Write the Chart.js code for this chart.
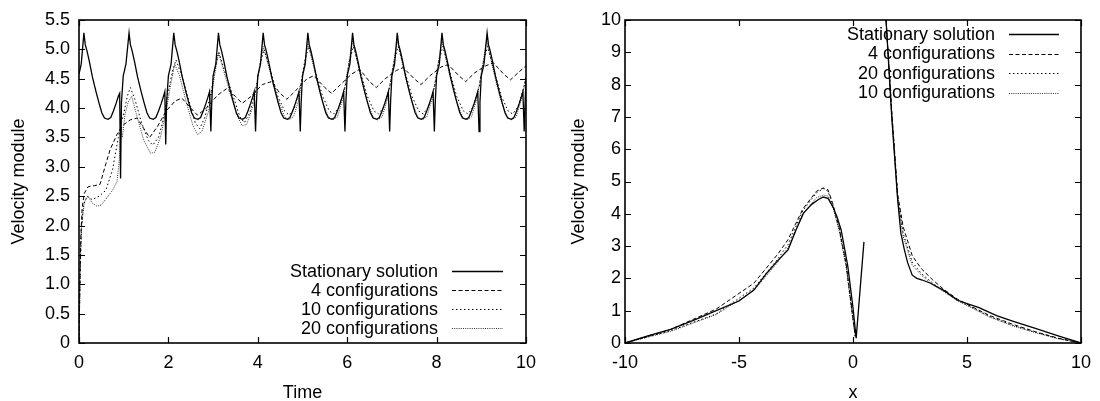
<!DOCTYPE html>
<html>
<head>
<meta charset="utf-8">
<script src="https://cdn.jsdelivr.net/npm/chart.js@4/dist/chart.umd.min.js"></script>
<style>
  html, body { margin: 0; padding: 0; background: #fff; }
  #wrap { position: relative; width: 1100px; height: 401px; overflow: hidden; }
  .pane { position: absolute; top: 0; width: 550px; height: 401px; }
  #p1 { left: 0; }
  #p2 { left: 550px; }
</style>
</head>
<body>
<div id="wrap">
  <div class="pane" id="p1"><canvas id="c1" width="550" height="401"></canvas></div>
  <div class="pane" id="p2"><canvas id="c2" width="550" height="401"></canvas></div>
</div>
<script>
// ---------------- Left panel: Velocity module vs Time ----------------
const leftLabels = ["Stationary solution", "4 configurations", "10 configurations", "20 configurations"];
const leftXTicks = [0, 2, 4, 6, 8, 10];
const leftYTicks = [0, 0.5, 1, 1.5, 2, 2.5, 3, 3.5, 4, 4.5, 5, 5.5];

const statTime = [0, 0.05,
  0.11, 0.14, 0.18, 0.23, 0.30, 0.38, 0.45, 0.51, 0.57, 0.65, 0.71, 0.77, 0.83, 0.88, 0.91, 0.93, 0.95, 0.99, 1.05,
  1.12, 1.15, 1.19, 1.24, 1.31, 1.39, 1.46, 1.52, 1.58, 1.66, 1.72, 1.78, 1.84, 1.89, 1.92, 1.94, 1.96, 2.00, 2.06,
  2.12, 2.15, 2.19, 2.24, 2.31, 2.39, 2.46, 2.52, 2.58, 2.66, 2.72, 2.78, 2.84, 2.89, 2.92, 2.95, 2.97, 3.00, 3.06,
  3.12, 3.15, 3.19, 3.24, 3.31, 3.39, 3.46, 3.52, 3.58, 3.66, 3.72, 3.78, 3.84, 3.89, 3.92, 3.95, 3.97, 4.00, 4.06,
  4.12, 4.15, 4.19, 4.24, 4.31, 4.39, 4.46, 4.52, 4.58, 4.66, 4.72, 4.78, 4.84, 4.89, 4.92, 4.95, 4.97, 5.00, 5.06,
  5.12, 5.15, 5.19, 5.24, 5.31, 5.39, 5.46, 5.52, 5.58, 5.66, 5.72, 5.78, 5.84, 5.89, 5.92, 5.95, 5.97, 6.00, 6.06,
  6.12, 6.15, 6.19, 6.24, 6.31, 6.39, 6.46, 6.52, 6.58, 6.66, 6.72, 6.78, 6.84, 6.89, 6.92, 6.95, 6.97, 7.00, 7.06,
  7.12, 7.15, 7.19, 7.24, 7.31, 7.39, 7.46, 7.52, 7.58, 7.66, 7.72, 7.78, 7.84, 7.89, 7.92, 7.95, 7.97, 8.00, 8.06,
  8.12, 8.15, 8.19, 8.24, 8.31, 8.39, 8.46, 8.52, 8.58, 8.66, 8.72, 8.78, 8.84, 8.89, 8.92, 8.95, 8.97, 9.00, 9.06,
  9.13, 9.16, 9.20, 9.25, 9.32, 9.40, 9.47, 9.53, 9.59, 9.67, 9.73, 9.79, 9.85, 9.90, 9.93, 9.96, 9.98, 10.0];
const statVel = [4.58, 4.75,
  5.28, 5.08, 4.97, 4.80, 4.53, 4.28, 4.08, 3.92, 3.83, 3.81, 3.84, 3.95, 4.08, 4.20, 4.25, 2.80, 4.10, 4.55, 4.75,
  5.28, 5.08, 4.97, 4.80, 4.53, 4.28, 4.08, 3.92, 3.83, 3.81, 3.84, 3.95, 4.08, 4.20, 4.28, 3.38, 4.10, 4.55, 4.75,
  5.28, 5.08, 4.97, 4.80, 4.53, 4.28, 4.08, 3.92, 3.83, 3.81, 3.84, 3.95, 4.08, 4.20, 4.28, 3.60, 4.10, 4.55, 4.75,
  5.28, 5.08, 4.97, 4.80, 4.53, 4.28, 4.08, 3.92, 3.83, 3.81, 3.84, 3.95, 4.08, 4.20, 4.28, 3.60, 4.10, 4.55, 4.75,
  5.28, 5.08, 4.97, 4.80, 4.53, 4.28, 4.08, 3.92, 3.83, 3.81, 3.84, 3.95, 4.08, 4.20, 4.28, 3.60, 4.10, 4.55, 4.75,
  5.28, 5.08, 4.97, 4.80, 4.53, 4.28, 4.08, 3.92, 3.83, 3.81, 3.84, 3.95, 4.08, 4.20, 4.28, 3.60, 4.10, 4.55, 4.75,
  5.28, 5.08, 4.97, 4.80, 4.53, 4.28, 4.08, 3.92, 3.83, 3.81, 3.84, 3.95, 4.08, 4.20, 4.28, 3.60, 4.10, 4.55, 4.75,
  5.28, 5.08, 4.97, 4.80, 4.53, 4.28, 4.08, 3.92, 3.83, 3.81, 3.84, 3.95, 4.08, 4.20, 4.28, 3.60, 4.10, 4.55, 4.75,
  5.28, 5.08, 4.97, 4.80, 4.53, 4.28, 4.08, 3.92, 3.83, 3.81, 3.84, 3.95, 4.08, 4.20, 4.28, 3.60, 4.10, 4.55, 4.75,
  5.28, 5.08, 4.97, 4.80, 4.53, 4.28, 4.08, 3.92, 3.83, 3.81, 3.84, 3.95, 4.08, 4.20, 4.28, 3.60, 4.10, 4.50];

const conf4Time = [0, 0.02, 0.04, 0.07, 0.12, 0.2, 0.35, 0.47, 0.6, 0.7, 0.85, 1.0, 1.15, 1.3, 1.45, 1.58, 1.75, 1.95,
  2.15, 2.3, 2.5, 2.65, 2.85, 3.1, 3.3, 3.5, 3.65, 3.85, 4.1, 4.3, 4.5, 4.65, 4.85, 5.1, 5.25, 5.5, 5.65, 5.85,
  6.1, 6.28, 6.5, 6.65, 6.85, 7.1, 7.25, 7.5, 7.65, 7.85, 8.1, 8.26, 8.5, 8.65, 8.85, 9.1, 9.27, 9.5, 9.65, 9.85, 10];
const conf4Vel = [0, 1.0, 1.8, 2.3, 2.55, 2.66, 2.68, 2.70, 3.05, 3.30, 3.55, 3.72, 3.80, 3.83, 3.65, 3.50, 3.68, 3.95,
  4.12, 4.17, 4.00, 3.88, 4.00, 4.22, 4.33, 4.20, 4.08, 4.20, 4.40, 4.45, 4.25, 4.15, 4.30, 4.50, 4.55, 4.35, 4.25, 4.40,
  4.58, 4.66, 4.45, 4.35, 4.50, 4.64, 4.69, 4.50, 4.40, 4.55, 4.70, 4.74, 4.55, 4.45, 4.60, 4.72, 4.77, 4.58, 4.48, 4.62, 4.72];

const conf10Time = [0, 0.02, 0.05, 0.1, 0.18, 0.3, 0.45, 0.6, 0.75, 0.88, 0.93, 1.0, 1.08, 1.15, 1.25, 1.4, 1.55, 1.65, 1.78, 1.9,
  2.0, 2.1, 2.17, 2.3, 2.45, 2.6, 2.7, 2.82, 2.95, 3.05, 3.13, 3.25, 3.45, 3.6, 3.7, 3.82, 3.95, 4.05,
  4.14, 4.3, 4.45, 4.6, 4.7, 4.82, 4.95, 5.05,
  5.14, 5.3, 5.45, 5.6, 5.7, 5.82, 5.95, 6.05,
  6.14, 6.3, 6.45, 6.6, 6.7, 6.82, 6.95, 7.05,
  7.14, 7.3, 7.45, 7.6, 7.7, 7.82, 7.95, 8.05,
  8.14, 8.3, 8.45, 8.6, 8.7, 8.82, 8.95, 9.05,
  9.14, 9.3, 9.45, 9.6, 9.7, 9.82, 9.95, 10];
const conf10Vel = [0, 1.0, 1.9, 2.35, 2.5, 2.44, 2.5, 2.6, 2.95, 3.5, 3.7, 3.9, 4.2, 4.35, 4.15, 3.75, 3.45, 3.37, 3.5, 3.85,
  4.3, 4.65, 4.82, 4.55, 4.15, 3.75, 3.65, 3.85, 4.25, 4.7, 4.95, 4.65, 4.2, 3.85, 3.75, 3.92, 4.3, 4.75,
  5.0, 4.6, 4.2, 3.95, 3.88, 4.0, 4.35, 4.8,
  5.05, 4.6, 4.2, 3.95, 3.9, 4.02, 4.35, 4.8,
  5.05, 4.6, 4.2, 3.95, 3.9, 4.02, 4.35, 4.8,
  5.05, 4.6, 4.2, 3.95, 3.9, 4.02, 4.35, 4.8,
  5.05, 4.6, 4.2, 3.95, 3.9, 4.02, 4.35, 4.8,
  5.05, 4.6, 4.2, 3.95, 3.9, 4.02, 4.35, 4.55];

const conf20Time = [0, 0.03, 0.06, 0.12, 0.2, 0.3, 0.4, 0.5, 0.6, 0.75, 0.85, 0.9, 0.94, 0.97, 1.03, 1.1, 1.18, 1.3, 1.45, 1.6, 1.7, 1.82, 1.95,
  2.05, 2.14, 2.25, 2.4, 2.55, 2.65, 2.75, 2.9, 3.0, 3.12, 3.25, 3.4, 3.55, 3.65, 3.75, 3.9, 4.0,
  4.12, 4.3, 4.45, 4.6, 4.7, 4.8, 4.92, 5.02,
  5.12, 5.28, 5.43, 5.58, 5.68, 5.78, 5.9, 6.0,
  6.12, 6.28, 6.43, 6.58, 6.68, 6.78, 6.9, 7.0,
  7.12, 7.28, 7.43, 7.58, 7.68, 7.78, 7.9, 8.0,
  8.12, 8.28, 8.43, 8.58, 8.68, 8.78, 8.9, 9.0,
  9.12, 9.28, 9.43, 9.58, 9.68, 9.78, 9.9, 10];
const conf20Vel = [0, 1.4, 2.0, 2.4, 2.5, 2.38, 2.33, 2.35, 2.45, 2.6, 2.75, 3.1, 3.65, 3.5, 3.9, 4.1, 4.2, 3.85, 3.45, 3.23, 3.25, 3.5, 3.95,
  4.4, 4.75, 4.55, 4.1, 3.7, 3.55, 3.6, 3.95, 4.4, 4.95, 4.6, 4.2, 3.85, 3.7, 3.72, 4.05, 4.5,
  5.05, 4.55, 4.15, 3.85, 3.8, 3.85, 4.15, 4.6,
  5.12, 4.6, 4.15, 3.85, 3.8, 3.85, 4.15, 4.6,
  5.15, 4.6, 4.15, 3.85, 3.8, 3.85, 4.15, 4.6,
  5.15, 4.6, 4.15, 3.85, 3.8, 3.85, 4.15, 4.6,
  5.15, 4.6, 4.15, 3.85, 3.8, 3.85, 4.15, 4.6,
  5.15, 4.6, 4.15, 3.85, 3.8, 3.85, 4.15, 4.5];

// ---------------- Right panel: Velocity module vs x ----------------
const rightLabels = ["Stationary solution", "4 configurations", "20 configurations", "10 configurations"];
const rightXTicks = [-10, -5, 0, 5, 10];
const rightYTicks = [0, 1, 2, 3, 4, 5, 6, 7, 8, 9, 10];

const rStatX = [-10, -9, -8, -7, -6, -5, -4.35, -3.8, -3.3, -2.85, -2.5, -2.17, -1.8, -1.5, -1.3, -1.1, -0.87, -0.7, -0.52, -0.23, -0.01, 0.14, 0.48,
  0.9, 1.45, 1.7, 1.96, 2.1, 2.25, 2.4, 2.6, 2.8, 3.04, 3.4, 4.0, 4.57, 5.0, 5.5, 6.3, 7.0, 8.0, 9.0, 10];
const rStatV = [0, 0.22, 0.42, 0.7, 1.0, 1.3, 1.64, 2.15, 2.55, 2.88, 3.5, 4.02, 4.3, 4.45, 4.52, 4.48, 4.2, 3.9, 3.5, 2.39, 1.15, 0.15, 3.13,
  null, 10, 7.0, 4.43, 3.4, 2.9, 2.48, 2.1, 2.0, 1.95, 1.85, 1.62, 1.33, 1.22, 1.1, 0.85, 0.68, 0.45, 0.22, 0];

const r4X = [-10, -8, -6, -4.35, -3.3, -2.85, -2.2, -1.6, -1.3, -1.1, -0.9, -0.6, -0.3, -0.05, 0.1,
  0.8, 1.45, 1.7, 1.96, 2.2, 2.6, 3.0, 3.5, 4.0, 4.6, 5.0, 6.0, 7.0, 8.0, 9.0, 10];
const r4V = [0, 0.42, 1.05, 1.85, 2.75, 3.2, 4.15, 4.7, 4.8, 4.75, 4.35, 3.55, 2.45, 1.05, 0.2,
  null, 10, 7.2, 4.6, 3.6, 2.7, 2.3, 1.95, 1.65, 1.35, 1.2, 0.85, 0.58, 0.35, 0.15, 0];

const r20X = [-10, -8, -6, -4.35, -3.3, -2.85, -2.2, -1.6, -1.3, -1.1, -0.9, -0.6, -0.3, -0.05, 0.1,
  0.8, 1.45, 1.7, 1.96, 2.2, 2.6, 3.0, 3.5, 4.0, 4.6, 5.0, 6.0, 7.0, 8.0, 9.0, 10];
const r20V = [0, 0.38, 0.9, 1.7, 2.6, 3.05, 4.1, 4.65, 4.78, 4.7, 4.3, 3.5, 2.4, 1.0, 0.2,
  null, 10, 7.1, 4.5, 3.4, 2.5, 2.15, 1.85, 1.6, 1.32, 1.18, 0.82, 0.55, 0.33, 0.14, 0];

const r10X = [-10, -8, -6, -4.35, -3.3, -2.85, -2.2, -1.6, -1.3, -1.1, -0.9, -0.6, -0.3, -0.05, 0.1,
  0.8, 1.45, 1.7, 1.96, 2.2, 2.6, 3.0, 3.5, 4.0, 4.6, 5.0, 6.0, 7.0, 8.0, 9.0, 10];
const r10V = [0, 0.36, 0.88, 1.62, 2.5, 2.95, 4.0, 4.5, 4.58, 4.55, 4.25, 3.45, 2.35, 0.95, 0.2,
  null, 10, 7.0, 4.45, 3.3, 2.4, 2.1, 1.8, 1.58, 1.3, 1.16, 0.8, 0.53, 0.32, 0.13, 0];

// ---------------- helpers ----------------
const FONT = '"Liberation Sans", Arial, Helvetica, sans-serif';
Chart.defaults.font.family = FONT;
Chart.defaults.font.size = 18;
Chart.defaults.color = '#000';

function pts(xs, ys) { return xs.map((x, i) => ({ x: x, y: ys[i] })); }

const STYLES = [
  { borderColor: '#000', borderWidth: 1.3, borderDash: [] },
  { borderColor: '#000', borderWidth: 1, borderDash: [4, 2.5] },
  { borderColor: '#000', borderWidth: 1, borderDash: [1.5, 2.5] },
  { borderColor: '#333', borderWidth: 1, borderDash: [1, 1.2] }
];

function makeDatasets(labels, series) {
  return labels.map((lab, i) => Object.assign({
    label: lab,
    data: series[i],
    pointRadius: 0,
    pointHoverRadius: 0,
    tension: 0,
    fill: false,
    spanGaps: false
  }, STYLES[i]));
}

const framePlugin = {
  id: 'gpFrame',
  afterDatasetsDraw(chart) {
    const { ctx, chartArea: a, scales } = chart;
    const x = scales.x, y = scales.y;
    ctx.save();
    ctx.setLineDash([]);
    ctx.strokeStyle = '#000';
    ctx.lineWidth = 1.6;
    ctx.strokeRect(a.left, a.top, a.right - a.left, a.bottom - a.top);
    ctx.lineWidth = 1.2;
    const L = 6;
    ctx.beginPath();
    x.ticks.forEach(t => {
      const px = Math.round(x.getPixelForValue(t.value)) + 0.5;
      ctx.moveTo(px, a.bottom); ctx.lineTo(px, a.bottom - L);
      ctx.moveTo(px, a.top); ctx.lineTo(px, a.top + L);
    });
    y.ticks.forEach(t => {
      const py = Math.round(y.getPixelForValue(t.value)) + 0.5;
      ctx.moveTo(a.left, py); ctx.lineTo(a.left + L, py);
      ctx.moveTo(a.right, py); ctx.lineTo(a.right - L, py);
    });
    ctx.stroke();
    ctx.restore();
  }
};

const keyPlugin = {
  id: 'gpKey',
  afterDatasetsDraw(chart, args, o) {
    const { ctx, chartArea: a } = chart;
    const dsets = chart.data.datasets;
    const n = dsets.length;
    ctx.save();
    ctx.font = '18px ' + FONT;
    ctx.textAlign = 'right';
    ctx.textBaseline = 'middle';
    dsets.forEach((ds, i) => {
      const yy = o.anchor === 'top' ? a.top + o.first + i * o.row : a.bottom - o.first - (n - 1 - i) * o.row;
      const x1 = a.right - o.right;
      const x0 = x1 - o.len;
      ctx.setLineDash([]);
      ctx.fillStyle = '#000';
      ctx.fillText(ds.label, x0 - o.gap, yy + 1);
      ctx.setLineDash(ds.borderDash || []);
      ctx.lineWidth = ds.borderWidth;
      ctx.strokeStyle = ds.borderColor;
      ctx.beginPath();
      ctx.moveTo(x0, Math.round(yy) + 0.5);
      ctx.lineTo(x1, Math.round(yy) + 0.5);
      ctx.stroke();
    });
    ctx.restore();
  }
};

function makeChart(canvas, cfg) {
  return new Chart(canvas, {
    type: 'line',
    data: { datasets: makeDatasets(cfg.labels, cfg.series) },
    plugins: [framePlugin, keyPlugin],
    options: {
      responsive: false,
      animation: false,
      devicePixelRatio: 1,
      layout: { padding: { left: 0, right: cfg.padRight, top: 20, bottom: 0 } },
      plugins: {
        legend: { display: false },
        tooltip: { enabled: false },
        gpKey: cfg.key
      },
      scales: {
        x: {
          type: 'linear',
          min: cfg.xMin, max: cfg.xMax,
          afterBuildTicks: s => { s.ticks = cfg.xTicks.map(v => ({ value: v })); },
          afterFit: s => { s.height = 58; },
          grid: { display: false, drawTicks: false },
          border: { display: false },
          ticks: { padding: 9, maxRotation: 0, autoSkip: false, font: { size: 18 } },
          title: { display: true, text: cfg.xTitle, font: { size: 18, lineHeight: 1 }, padding: { top: 0, bottom: -1 } }
        },
        y: {
          type: 'linear',
          min: cfg.yMin, max: cfg.yMax,
          afterBuildTicks: s => { s.ticks = cfg.yTicks.map(v => ({ value: v })); },
          afterFit: s => { s.width = cfg.yAxisW; },
          grid: { display: false, drawTicks: false },
          border: { display: false },
          ticks: { padding: cfg.yTickPad, autoSkip: false, font: { size: 18 } },
          title: { display: true, text: 'Velocity module', font: { size: 18, lineHeight: 1 }, padding: { top: cfg.yTitlePad, bottom: 0 } }
        }
      }
    }
  });
}

makeChart(document.getElementById('c1'), {
  labels: leftLabels,
  series: [pts(statTime, statVel), pts(conf4Time, conf4Vel), pts(conf10Time, conf10Vel), pts(conf20Time, conf20Vel)],
  xMin: 0, xMax: 10, yMin: 0, yMax: 5.5,
  xTicks: leftXTicks, yTicks: leftYTicks,
  padRight: 24, yAxisW: 79, yTickPad: 9, yTitlePad: 10,
  xTitle: 'Time',
  key: { anchor: 'bottom', first: 15, row: 19, len: 51, right: 23, gap: 14 }
});

makeChart(document.getElementById('c2'), {
  labels: rightLabels,
  series: [pts(rStatX, rStatV), pts(r4X, r4V), pts(r20X, r20V), pts(r10X, r10V)],
  xMin: -10, xMax: 10, yMin: 0, yMax: 10,
  xTicks: rightXTicks, yTicks: rightYTicks,
  padRight: 17, yAxisW: 75, yTickPad: 4, yTitlePad: 20,
  xTitle: 'x',
  key: { anchor: 'top', first: 14, row: 19.5, len: 50, right: 22, gap: 14 }
});
</script>
</body>
</html>
